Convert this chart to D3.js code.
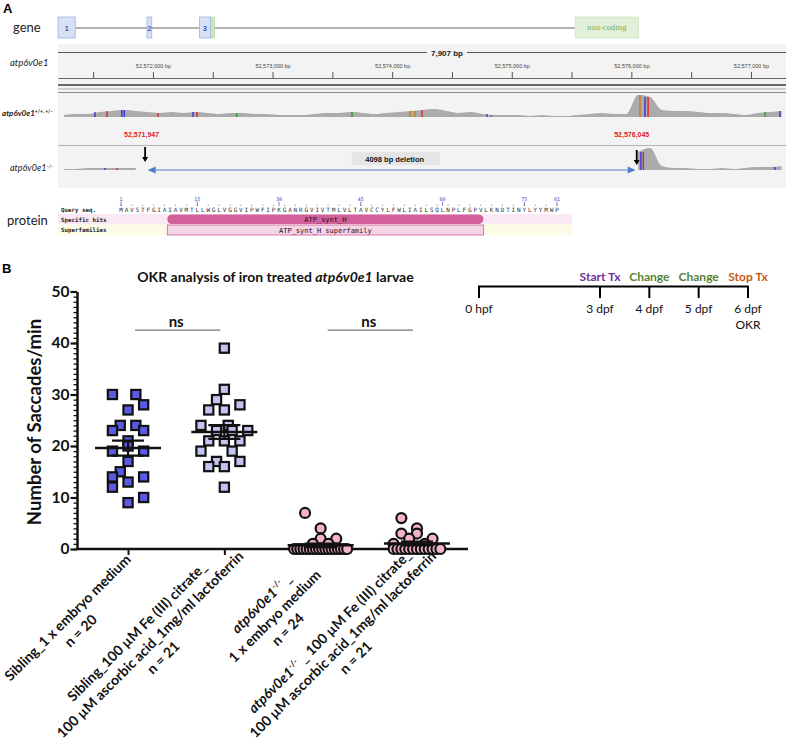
<!DOCTYPE html>
<html>
<head>
<meta charset="utf-8">
<script src="https://cdn.jsdelivr.net/npm/d3@7"></script>
<style>
  body { margin: 0; background: #fff; }
  svg { display: block; }
</style>
</head>
<body>
<div id="chart"></div>
<script>
// ---------- Panel A data ----------
const genomeStart = 52571206;
const genomeEnd = 52577293;
const spanLabel = '7,907 bp';
const exonStarts = [52571206, 52571950, 52572390];
const exonEnds = [52571350, 52571990, 52572480];
const exonNames = ['1', '2', '3'];
const utrRange = [52572480, 52572515];
const nonCodingRange = [52575530, 52576060];
const deletionStart = 52571947;
const deletionEnd = 52576045;
const deletionLabel = '4098 bp deletion';
const binSize = 100;
// read depth per 100 bp bin, wild type / het and homozygous mutant
const wtCoverage = [2, 3, 3, 5, 6, 7, 6, 5, 4, 5, 4, 5, 4, 3, 4, 4, 3, 3, 2, 2,
  2, 3, 4, 4, 5, 4, 3, 4, 5, 6, 7, 8, 6, 4, 5, 3, 2, 2, 2, 1,
  2, 1, 1, 2, 3, 4, 3, 3, 22, 20, 7, 6, 6, 5, 4, 4, 3, 2, 4, 5, 6];
const koCoverage = [1, 1, 2, 2, 2, 2, 2, 1, 0, 0, 0, 0, 0, 0, 0, 0, 0, 0, 0, 0,
  0, 0, 0, 0, 0, 0, 0, 0, 0, 0, 0, 0, 0, 0, 0, 0, 0, 0, 0, 0,
  0, 0, 0, 0, 0, 0, 0, 0, 18, 22, 4, 2, 2, 1, 1, 2, 1, 2, 3, 3, 4];
const wtMismatchPos = [52571515, 52571616, 52571740, 52571760, 52572042, 52572335, 52572368, 52572700,
  52573664, 52574150, 52574191, 52574250, 52574793, 52574830, 52576072, 52576114, 52576140, 52577118, 52577243];
const wtMismatchBase = ['C', 'T', 'C', 'C', 'T', 'C', 'T', 'A', 'A', 'G', 'G', 'T', 'C', 'A', 'G', 'C', 'T', 'A', 'C'];
const koMismatchPos = [52571600, 52571700, 52576080, 52576100, 52577200];
const koMismatchBase = ['C', 'T', 'C', 'T', 'C'];

const proteinSeq = 'MAVSTFGIAIAVMTLLWGLVGGVIPWFIPKGANRGVIVTMLVLTAVCCYLFWLIAILSQLNPLFGPVLKNDTINYLYYMWP';
const seqLabels = [1, 15, 30, 45, 60, 75, 81];
const domainRange = [10, 67];
const domainName = 'ATP_synt_H';
const superfamilyName = 'ATP_synt_H superfamily';

// ---------- Panel B data ----------
const timelineDays = [0, 3, 4, 5, 6];
const timelineLabels = ['0 hpf', '3 dpf', '4 dpf', '5 dpf', '6 dpf'];
const timelineSubLabels = ['', '', '', '', 'OKR'];
const eventDays = [3, 4, 5, 6];
const eventLabels = ['Start Tx', 'Change', 'Change', 'Stop Tx'];

const groupLabels = [
  ['Sibling_1 x embryo medium'],
  ['Sibling_100 µM Fe (III) citrate_', '100 µM ascorbic acid_1mg/ml lactoferrin'],
  ['*atp6v0e1*^-/-^ _', '1 x embryo medium'],
  ['*atp6v0e1*^-/-^ _ 100 µM Fe (III) citrate_', '100 µM ascorbic acid_1mg/ml lactoferrin']
];
const groupN = [20, 21, 24, 21];
const siblingEM = [30, 30, 28, 27, 24, 24, 23, 23, 21, 20, 19, 19, 17, 15, 14, 14, 13, 12, 10, 9];
const siblingIron = [39, 31, 29, 27, 27, 28, 24, 24, 23, 23, 23, 21, 21, 21, 19, 19, 17, 16, 16, 17, 12];
const mutantEM = [7, 4, 2, 2, 1, 1, 0, 0, 0, 0, 0, 0, 0, 0, 0, 0, 0, 0, 0, 0, 0, 0, 0, 0];
const mutantIron = [6, 4, 3, 3, 2, 2, 1, 1, 0, 0, 0, 0, 0, 0, 0, 0, 0, 0, 0, 0, 0];
// horizontal scatter slot of each point as plotted
const siblingEMSlot = [-2, 1, 2, 0, -1, 1, -2, 2, 0, 0, -2, 2, 0, -1, -2, 2, 0, -2, 2, 0];
const siblingIronSlot = [0, 0, -1, -2, 0, 2, -3, 0.5, -1, 1, 3, -2, 0, 2, -3, 1, -1, -2, 0, 2, 0];
const mutantEMSlot = [-2, 0, 0, 2, -1, 1, -3.4, -3, -2.6, -2.2, -1.8, -1.4, -1, -0.6, -0.2, 0.2, 0.6, 1, 1.4, 1.8, 2.2, 2.6, 3, 3.4];
const mutantIronSlot = [-2, 0, -2, 0, 2, -1, 1, -3, -3, -2.5, -2, -1.5, -1, -0.5, 0, 0.5, 1, 1.5, 2, 2.5, 3];
const yTicks = [0, 10, 20, 30, 40, 50];
const sigPairs = [[0, 1], [2, 3]];
const sigLabels = ['ns', 'ns'];
const sigLevel = 42.5;

// ---------- helpers ----------
function rich(textSel, str, size) {
  const parts = str.split(/(\*[^*]+\*|\^[^^]+\^)/).filter(s => s.length);
  let raised = false;
  parts.forEach(p => {
    const ts = textSel.append('tspan');
    if (p[0] === '^') {
      ts.attr('font-size', size * 0.62).attr('dy', -size * 0.38).text(p.slice(1, -1));
      raised = true;
      return;
    }
    if (raised) { ts.attr('dy', size * 0.38); raised = false; }
    if (p[0] === '*') ts.attr('font-style', 'italic').text(p.slice(1, -1));
    else ts.text(p);
  });
}

const svg = d3.select('#chart').append('svg')
  .attr('width', 786).attr('height', 744)
  .style('font-family', 'Lato, sans-serif');

// ================= Panel A =================
const A = svg.append('g');
const igvFont = '"Liberation Sans", Arial, sans-serif';
A.append('text').attr('x', 3).attr('y', 13).attr('font-size', 13).attr('font-weight', 'bold')
  .style('font-family', igvFont).text('A');

const gx = d3.scaleLinear().domain([genomeStart, genomeEnd]).range([58, 786]);

A.append('rect').attr('x', 58).attr('y', 44).attr('width', 728).attr('height', 144).attr('fill', '#f3f3f3');

// gene model
A.append('text').attr('x', 13).attr('y', 32).attr('font-size', 13).attr('fill', '#222').text('gene');
A.append('line').attr('x1', gx(exonEnds[0])).attr('x2', gx(nonCodingRange[0]))
  .attr('y1', 28).attr('y2', 28).attr('stroke', '#666').attr('stroke-width', 1);
A.append('rect').attr('x', gx(utrRange[0])).attr('y', 17)
  .attr('width', gx(utrRange[1]) - gx(utrRange[0])).attr('height', 21)
  .attr('fill', '#cde5bf').attr('stroke', '#b5d6a0').attr('stroke-width', 0.6);
exonStarts.forEach((s, i) => {
  A.append('rect').attr('x', gx(s)).attr('y', 17)
    .attr('width', gx(exonEnds[i]) - gx(s)).attr('height', 21)
    .attr('fill', '#d6e1f6').attr('stroke', '#9db4e2').attr('stroke-width', 0.8);
  A.append('text').attr('x', (gx(s) + gx(exonEnds[i])) / 2).attr('y', 30.5)
    .attr('text-anchor', 'middle').attr('font-size', 7).attr('font-weight', 'bold')
    .attr('fill', '#3a56b0').style('font-family', igvFont).text(exonNames[i]);
});
A.append('rect').attr('x', gx(nonCodingRange[0])).attr('y', 17)
  .attr('width', gx(nonCodingRange[1]) - gx(nonCodingRange[0])).attr('height', 21)
  .attr('fill', '#e3f0d9').attr('stroke', '#cfe5c0').attr('stroke-width', 0.8);
A.append('text').attr('x', (gx(nonCodingRange[0]) + gx(nonCodingRange[1])) / 2).attr('y', 30)
  .attr('text-anchor', 'middle').attr('font-size', 7).attr('fill', '#6fa84a')
  .style('font-family', 'DejaVu Serif, serif').text('non-coding');

// ruler
A.append('text').attr('x', 10).attr('y', 66).attr('font-size', 9.5).attr('font-style', 'italic')
  .attr('fill', '#222').text('atp6v0e1');
const spanX = 447;
A.append('line').attr('x1', 58).attr('x2', spanX - 20).attr('y1', 52.5).attr('y2', 52.5).attr('stroke', '#555');
A.append('line').attr('x1', spanX + 20).attr('x2', 786).attr('y1', 52.5).attr('y2', 52.5).attr('stroke', '#555');
A.append('text').attr('x', spanX).attr('y', 55.5).attr('text-anchor', 'middle').attr('font-size', 8)
  .attr('font-weight', 'bold').attr('fill', '#222').style('font-family', igvFont).text(spanLabel);

const rulerAxis = d3.axisTop(gx)
  .tickValues(d3.range(52571500, genomeEnd, 500))
  .tickSize(6).tickSizeOuter(0)
  .tickFormat(d => d % 1000 === 0 ? d3.format(',')(d) + ' bp' : '');
const rulerG = A.append('g').attr('transform', 'translate(0,78)').call(rulerAxis);
rulerG.select('.domain').attr('stroke', '#666');
rulerG.selectAll('.tick line').attr('stroke', '#555');
rulerG.selectAll('.tick text').attr('font-size', 5.5).attr('fill', '#444')
  .style('font-family', igvFont).attr('dy', -1.5);
A.append('line').attr('x1', 58).attr('x2', 786).attr('y1', 85).attr('y2', 85).attr('stroke', '#6a6a6a').attr('stroke-width', 2);
A.append('line').attr('x1', 58).attr('x2', 786).attr('y1', 89).attr('y2', 89).attr('stroke', '#b0b0b0').attr('stroke-width', 1);
A.append('line').attr('x1', 58).attr('x2', 786).attr('y1', 92.5).attr('y2', 92.5).attr('stroke', '#8a8a8a').attr('stroke-width', 1);

// coverage tracks
const covH = d3.scaleLinear().domain([0, 25]).range([0, 25]);
const binMid = i => gx(genomeStart + (i + 0.5) * binSize);
const baseColor = d3.scaleOrdinal().domain(['A', 'C', 'G', 'T']).range(['#1aa31a', '#2a2ae0', '#d17105', '#e8181d']);
const binOf = p => Math.floor((p - genomeStart) / binSize);

function coverageTrack(values, baseY, mPos, mBase, keep) {
  const area = d3.area()
    .defined((d, i) => keep(i))
    .x((d, i) => binMid(i))
    .y0(baseY).y1(d => baseY - covH(d))
    .curve(d3.curveMonotoneX);
  A.append('path').datum(values).attr('d', area).attr('fill', '#ababab');
  mPos.forEach((p, i) => {
    const h = covH(values[binOf(p)] || 0);
    if (!h) return;
    A.append('line').attr('x1', gx(p)).attr('x2', gx(p)).attr('y1', baseY).attr('y2', baseY - h)
      .attr('stroke', baseColor(mBase[i])).attr('stroke-width', 1.3);
  });
}
coverageTrack(wtCoverage, 117, wtMismatchPos, wtMismatchBase, () => true);
const lbl1 = A.append('text').attr('x', 2).attr('y', 116).attr('font-size', 8).attr('font-weight', 'bold').attr('fill', '#222');
rich(lbl1, '*atp6v0e1*^+/+, +/-^', 8);

// deletion breakpoints
[deletionStart, deletionEnd].forEach(p => {
  A.append('text').attr('x', gx(p) - 5).attr('y', 136.5).attr('text-anchor', 'middle')
    .attr('font-size', 7).attr('font-weight', 'bold').attr('fill', '#e0201f')
    .style('font-family', igvFont).text(d3.format(',')(p));
});
A.append('line').attr('x1', 58).attr('x2', 786).attr('y1', 145.5).attr('y2', 145.5).attr('stroke', '#b4b4b4');

const koKeep = i => {
  const mid = genomeStart + (i + 0.5) * binSize;
  return mid < deletionStart || mid > deletionEnd;
};
coverageTrack(koCoverage, 170, koMismatchPos, koMismatchBase, koKeep);
const lbl2 = A.append('text').attr('x', 10).attr('y', 171).attr('font-size', 9).attr('fill', '#222');
rich(lbl2, '*atp6v0e1*^-/-^', 9);

const dx1 = gx(deletionStart), dx2 = gx(deletionEnd);
A.append('line').attr('x1', dx1 + 3).attr('x2', dx2 - 3).attr('y1', 170).attr('y2', 170)
  .attr('stroke', '#4f7fc9').attr('stroke-width', 1);
A.append('path').attr('d', `M${dx1 + 1},170 l8,-3.5 l0,7 z`).attr('fill', '#4f7fc9');
A.append('path').attr('d', `M${dx2 - 1},170 l-8,-3.5 l0,7 z`).attr('fill', '#4f7fc9');
[[dx1 - 1.5, 147], [dx2, 150]].forEach(([x, y0]) => {
  A.append('line').attr('x1', x).attr('x2', x).attr('y1', y0).attr('y2', y0 + 11)
    .attr('stroke', '#000').attr('stroke-width', 1.8);
  A.append('path').attr('d', `M${x - 3},${y0 + 10} L${x + 3},${y0 + 10} L${x},${y0 + 15} z`).attr('fill', '#000');
});
const delMid = (dx1 + dx2) / 2 + 3;
A.append('rect').attr('x', delMid - 43).attr('y', 152).attr('width', 88).attr('height', 13).attr('fill', '#e5e5e5');
A.append('text').attr('x', delMid).attr('y', 161.5).attr('text-anchor', 'middle').attr('font-size', 7.5)
  .attr('font-weight', 'bold').attr('fill', '#111').style('font-family', igvFont).text(deletionLabel);

// protein domain
const mono = '"DejaVu Sans Mono", monospace';
const rx = d3.scaleLinear().domain([1, proteinSeq.length]).range([121, 557]);
const half = (rx(2) - rx(1)) / 2;
A.append('text').attr('x', 7).attr('y', 225).attr('font-size', 13).attr('fill', '#222').text('protein');
A.append('rect').attr('x', 58).attr('y', 214).attr('width', rx(proteinSeq.length) + half + 12 - 58).attr('height', 10.5).attr('fill', '#fbe8f5');
A.append('rect').attr('x', 58).attr('y', 224.5).attr('width', rx(proteinSeq.length) + half + 12 - 58).attr('height', 10.5).attr('fill', '#fcfce6');
[['Query seq.', 212], ['Specific hits', 221.5], ['Superfamilies', 231.5]].forEach(([t, y]) => {
  A.append('text').attr('x', 61).attr('y', y).attr('font-size', 5.8).attr('font-weight', 'bold')
    .attr('fill', '#222').style('font-family', mono).text(t);
});
A.selectAll('.res').data(proteinSeq.split('')).enter().append('text')
  .attr('x', (d, i) => rx(i + 1)).attr('y', 212).attr('text-anchor', 'middle')
  .attr('font-size', 6).attr('fill', '#333').style('font-family', mono).text(d => d);
A.selectAll('.rtick').data(d3.range(1, proteinSeq.length + 1, 2)).enter().append('line')
  .attr('x1', d => rx(d)).attr('x2', d => rx(d)).attr('y1', 204.5).attr('y2', 206).attr('stroke', '#666').attr('stroke-width', 0.6);
seqLabels.forEach(n => {
  A.append('line').attr('x1', rx(n)).attr('x2', rx(n)).attr('y1', 201.5).attr('y2', 206).attr('stroke', '#4646c8').attr('stroke-width', 0.7);
  A.append('text').attr('x', rx(n)).attr('y', 200.5).attr('text-anchor', 'middle').attr('font-size', 5)
    .attr('fill', '#4646c8').style('font-family', mono).text(n);
});
const dL = rx(domainRange[0]) - half, dR = rx(domainRange[1]) + half;
A.append('path')
  .attr('d', `M${dL + 5},214.5 L${dR - 6},214.5 Q${dR},214.5 ${dR},219 Q${dR},224 ${dR - 6},224 L${dL + 5},224 Q${dL},224 ${dL},219 Q${dL},214.5 ${dL + 5},214.5 z`)
  .attr('fill', '#d2609a');
A.append('text').attr('x', (dL + dR) / 2).attr('y', 221.5).attr('text-anchor', 'middle').attr('font-size', 7)
  .attr('fill', '#2d0a1c').style('font-family', mono).text(domainName);
A.append('rect').attr('x', dL).attr('y', 225).attr('width', dR - dL).attr('height', 10)
  .attr('fill', '#f4d5e5').attr('stroke', '#d2609a').attr('stroke-width', 0.8);
A.append('text').attr('x', (dL + dR) / 2).attr('y', 232.5).attr('text-anchor', 'middle').attr('font-size', 7)
  .attr('fill', '#2d0a1c').style('font-family', mono).text(superfamilyName);

// ================= Panel B =================
const B = svg.append('g');
B.append('text').attr('x', 2).attr('y', 273).attr('font-size', 13).attr('font-weight', 'bold')
  .style('font-family', igvFont).text('B');

// treatment timeline
const tx = d3.scaleLinear().domain([0, 3, 6]).range([479, 600, 748]);
B.append('line').attr('x1', tx(0) - 1).attr('x2', tx(6) + 1).attr('y1', 286.5).attr('y2', 286.5)
  .attr('stroke', '#000').attr('stroke-width', 2);
timelineDays.forEach((d, i) => {
  B.append('line').attr('x1', tx(d)).attr('x2', tx(d)).attr('y1', 286).attr('y2', 298)
    .attr('stroke', '#000').attr('stroke-width', 2);
  B.append('text').attr('x', tx(d)).attr('y', 313).attr('text-anchor', 'middle').attr('font-size', 12)
    .attr('fill', '#111').text(timelineLabels[i]);
  if (timelineSubLabels[i]) {
    B.append('text').attr('x', tx(d)).attr('y', 329).attr('text-anchor', 'middle').attr('font-size', 12)
      .attr('fill', '#111').text(timelineSubLabels[i]);
  }
});
const eventColor = d3.scaleOrdinal().domain(['Start Tx', 'Change', 'Stop Tx']).range(['#7030a0', '#548235', '#c55a11']);
eventDays.forEach((d, i) => {
  B.append('text').attr('x', tx(d)).attr('y', 280.5).attr('text-anchor', 'middle').attr('font-size', 12)
    .attr('font-weight', 'bold').attr('fill', eventColor(eventLabels[i])).text(eventLabels[i]);
});

// scatter plot
const x0 = 77, x1 = 468, yBase = 549;
const xPos = d3.scalePoint().domain(d3.range(groupLabels.length)).range([x0, x1]).padding(0.53);
const y = d3.scaleLinear().domain([0, 50]).range([yBase, 291.5]);
const jitter = d3.scaleLinear().domain([-1, 1]).range([-7.8, 7.8]);
const groupData = [siblingEM, siblingIron, mutantEM, mutantIron];
const groupSlots = [siblingEMSlot, siblingIronSlot, mutantEMSlot, mutantIronSlot];
const groupFill = ['#5a5ae6', '#c4c4f4', '#f4b3cb', '#f4b3cb'];
const groupShape = ['square', 'square', 'circle', 'circle'];

B.append('text').attr('x', 275.5).attr('y', 282).attr('text-anchor', 'middle').attr('font-size', 14)
  .attr('font-weight', 'bold').attr('fill', '#111')
  .call(t => rich(t, 'OKR analysis of iron treated *atp6v0e1* larvae', 14));

// axes
const minorAxis = d3.axisLeft(y).tickValues(d3.range(0, 51, 1)).tickSize(3.5).tickSizeOuter(0).tickFormat('');
const majorAxis = d3.axisLeft(y).tickValues(yTicks).tickSize(6.5).tickSizeOuter(0).tickPadding(1);
const yMinor = B.append('g').attr('transform', `translate(${x0},0)`).call(minorAxis);
yMinor.selectAll('.tick line').attr('stroke', '#111').attr('stroke-width', 1.3);
yMinor.select('.domain').remove();
const yMajor = B.append('g').attr('transform', `translate(${x0},0)`).call(majorAxis);
yMajor.select('.domain').attr('stroke', '#111').attr('stroke-width', 2.5);
yMajor.selectAll('.tick line').attr('stroke', '#111').attr('stroke-width', 2.2);
yMajor.selectAll('.tick text').attr('font-size', 15.5).attr('font-weight', 'bold').attr('fill', '#111')
  .style('font-family', 'Lato, sans-serif');
const xAxis = d3.axisBottom(xPos).tickSize(6).tickSizeOuter(0).tickFormat('');
const xg = B.append('g').attr('transform', `translate(0,${yBase})`).call(xAxis);
xg.select('.domain').attr('stroke', '#111').attr('stroke-width', 2.5).attr('d', `M${x0 - 1},0H${x1}`);
xg.selectAll('.tick line').attr('stroke', '#111').attr('stroke-width', 2);

B.append('text').attr('transform', 'translate(41,422) rotate(-90)').attr('text-anchor', 'middle')
  .attr('font-size', 18.5).attr('font-weight', 'bold').attr('fill', '#111').text('Number of Saccades/min');

// points
groupData.forEach((vals, gi) => {
  const g = B.append('g');
  vals.forEach((v, i) => {
    const cx = xPos(gi) + jitter(groupSlots[gi][i]);
    const cy = y(v);
    if (groupShape[gi] === 'square') {
      g.append('rect').attr('x', cx - 4.6).attr('y', cy - 4.6).attr('width', 9.2).attr('height', 9.2)
        .attr('fill', groupFill[gi]).attr('stroke', '#111').attr('stroke-width', 2.2);
    } else {
      g.append('circle').attr('cx', cx).attr('cy', cy).attr('r', 5)
        .attr('fill', groupFill[gi]).attr('stroke', '#111').attr('stroke-width', 2.2);
    }
  });
});

// mean with SEM
groupData.forEach((vals, gi) => {
  const m = d3.mean(vals);
  const sem = d3.deviation(vals) / Math.sqrt(vals.length);
  const cx = xPos(gi);
  const s = '#111';
  B.append('line').attr('x1', cx - 33).attr('x2', cx + 33).attr('y1', y(m)).attr('y2', y(m)).attr('stroke', s).attr('stroke-width', 2.5);
  B.append('line').attr('x1', cx).attr('x2', cx).attr('y1', y(m - sem)).attr('y2', y(m + sem)).attr('stroke', s).attr('stroke-width', 2.2);
  [m - sem, m + sem].forEach(v => {
    B.append('line').attr('x1', cx - 16).attr('x2', cx + 16).attr('y1', y(v)).attr('y2', y(v)).attr('stroke', s).attr('stroke-width', 2.2);
  });
});

// significance
sigPairs.forEach(([a, b], i) => {
  const ly = y(sigLevel);
  B.append('line').attr('x1', xPos(a) + 7).attr('x2', xPos(b) - 4).attr('y1', ly).attr('y2', ly)
    .attr('stroke', '#777').attr('stroke-width', 1.1);
  B.append('text').attr('x', (xPos(a) + xPos(b)) / 2).attr('y', ly - 3).attr('text-anchor', 'middle')
    .attr('font-size', 15).attr('font-weight', 'bold').attr('fill', '#111').text(sigLabels[i]);
});

// rotated category labels, lines centred on each other, block end near the tick
const lh = 18.5, labSize = 14;
const c45 = Math.SQRT1_2;
groupLabels.forEach((lines, gi) => {
  const all = lines.concat(['n = ' + groupN[gi]]);
  const g = B.append('g').attr('transform', `translate(${xPos(gi)},${yBase}) rotate(-45)`);
  const texts = all.map(ln => {
    const t = g.append('text').attr('text-anchor', 'middle').attr('font-size', labSize)
      .attr('font-weight', 'bold').attr('fill', '#111');
    rich(t, ln, labSize);
    return t;
  });
  const widths = texts.map(t => t.node().getComputedTextLength());
  const wMax = d3.max(widths);
  let along = 0.2 * (wMax - 215);
  const ly = li => 15 + (li - (all.length - 1) / 2) * lh + 5;
  // keep the start of every line inside the left edge
  const minLeft = d3.min(widths, (w, li) => xPos(gi) + c45 * (along - wMax / 2 - w / 2 + ly(li) - labSize * 0.75));
  if (minLeft < 3) along += (3 - minLeft) / c45;
  texts.forEach((t, li) => {
    t.attr('x', along - wMax / 2).attr('y', ly(li));
  });
});
</script>
</body>
</html>
